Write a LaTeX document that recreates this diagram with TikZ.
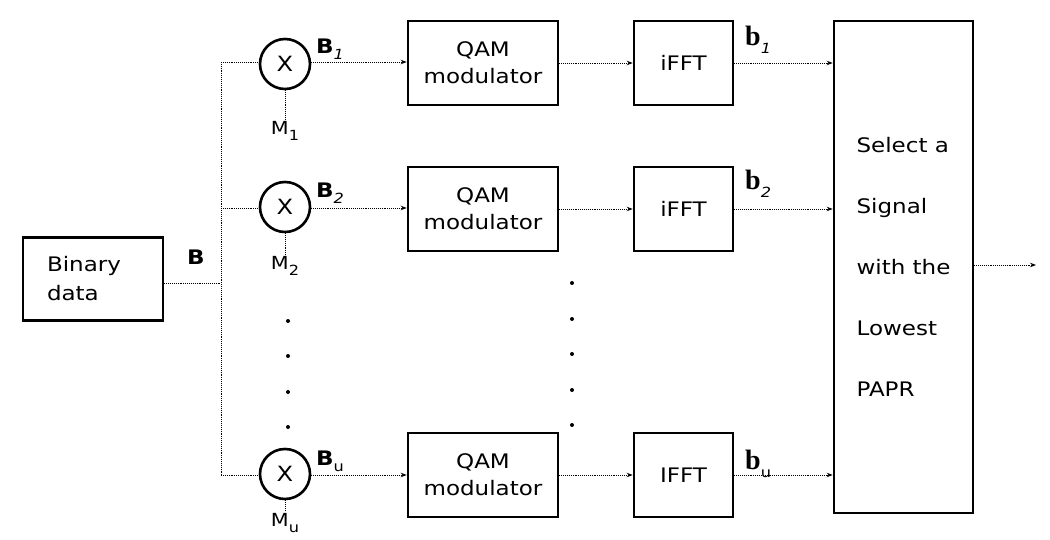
\documentclass[tikz,border=0pt]{standalone}
\usepackage{fontspec}
\setmainfont{DejaVu Sans}[FakeStretch=1.15]
\newfontfamily\mainf{DejaVu Sans}[FakeStretch=1.15]
\newfontfamily\serifb{Liberation Serif}
\usetikzlibrary{arrows.meta}
\newcommand\subs[1]{\raisebox{-0.3em}{\mainf\mdseries\fontsize{14}{14}\selectfont #1}}
\tikzset{
 blk/.style={draw, line width=2.6pt, inner sep=0pt, align=center, font=\fontsize{20}{27}\selectfont},
 qam/.style={blk, minimum width=150pt, minimum height=84pt},
 fft/.style={blk, minimum width=99pt, minimum height=84pt},
 mult/.style={draw, circle, line width=2.6pt, minimum size=50pt, inner sep=0pt, font=\fontsize{21}{24}\selectfont},
 conn/.style={densely dotted, line width=0.9pt},
 arr/.style={conn, -{Stealth[length=6pt,width=4.5pt]}},
 dotm/.style={circle, fill, inner sep=0pt, minimum size=4pt},
 lbl/.style={font=\fontsize{20}{22}\selectfont\bfseries, inner sep=0pt, anchor=west},
 lowb/.style={font=\serifb\bfseries\fontsize{28}{30}\selectfont, inner sep=0pt, anchor=west},
 mlab/.style={font=\fontsize{18}{20}\selectfont, inner sep=2pt},
}
\begin{document}
\begin{tikzpicture}[x=1pt,y=-1pt]
\useasboundingbox (0,0) rectangle (1050,540);
\clip (0,0) rectangle (1050,540);

% input
\node[blk, minimum width=140pt, minimum height=83pt, text width=92pt, align=left, font=\fontsize{20}{29}\selectfont] (bin) at (93,279) {Binary\\data};
\node[lbl] (Blab) at (187,257) {B};
\coordinate (bj) at (221,283);
\coordinate (bt) at (221,62);
\coordinate (bm) at (221,208);
\coordinate (bb) at (221,475);
\draw[conn] (bin.east |- bj) -- (bj);
\draw[conn] (bt) -- (bb);

% multipliers
\node[mult] (m1) at (285,64) {X};
\node[mult] (m2) at (285,207) {X};
\node[mult] (m3) at (285,474) {X};
\draw[conn] (bt) -- (m1.west |- bt);
\draw[conn] (bm) -- (m2.west |- bm);
\draw[conn] (bb) -- (m3.west |- bb);

\node[mlab] (ml1) at (285,131) {M\subs{1}};
\node[mlab] (ml2) at (285,266) {M\subs{2}};
\node[mlab] (ml3) at (285,523) {M\subs{u}};
\draw[conn] (m1) -- (ml1);
\draw[conn] (m2) -- (ml2);
\draw[conn] (m3) -- (ml3);

\node[lbl] (B1) at (316,49) {B\subs{\textit{1}}};
\node[lbl] (B2) at (316,193) {B\subs{\textit{2}}};
\node[lbl] (B3) at (316,461) {B\subs{u}};

% QAM
\node[qam] (q1) at (483,63) {QAM\\modulator};
\node[qam] (q2) at (483,209) {QAM\\modulator};
\node[qam] (q3) at (483,475) {QAM\\modulator};
\draw[arr] (m1.east |- bt) -- (q1.west |- bt);
\draw[arr] (m2.east |- bm) -- (q2.west |- bm);
\draw[arr] (m3.east |- bb) -- (q3.west |- bb);

% IFFT
\node[fft] (f1) at (683.5,63) {iFFT};
\node[fft] (f2) at (683.5,209) {iFFT};
\node[fft] (f3) at (683.5,475) {IFFT};
\draw[arr] (q1) -- (f1);
\draw[arr] (q2) -- (f2);
\draw[arr] (q3) -- (f3);

\node[lowb] (b1) at (745,40) {b\subs{\textit{1}}};
\node[lowb] (b2) at (745,184) {b\subs{\textit{2}}};
\node[lowb] (b3) at (745,464) {b\subs{u}};

% selector
\node[blk, minimum width=139pt, minimum height=492pt, align=left, font=\fontsize{20}{61}\selectfont] (sel) at (903.5,267) {Select a\\Signal\\with the\\Lowest\\PAPR};
\draw[arr] (f1) -- (sel.west |- f1);
\draw[arr] (f2) -- (sel.west |- f2);
\draw[arr] (f3) -- (sel.west |- f3);
\coordinate (out) at (1036,265);
\draw[arr] (sel.east |- out) -- (out);

% ellipsis dots
\foreach \yy [count=\i] in {321,356,392,427} \node[dotm] (da\i) at (288,\yy) {};
\foreach \yy [count=\i] in {283,319,354,390,425} \node[dotm] (db\i) at (572,\yy) {};
\end{tikzpicture}
\end{document}
